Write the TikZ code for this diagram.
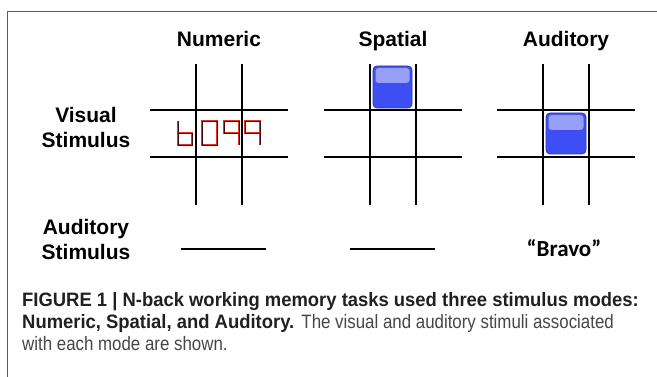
\documentclass[tikz,border=0pt]{standalone}
\usepackage{fontspec}
\setmainfont{Liberation Sans}
\newfontfamily\capfont[FakeStretch=0.95]{Liberation Sans}
\newfontfamily\capreg[FakeStretch=0.87]{Liberation Sans}
\newfontfamily\bravofont{Carlito}
\definecolor{frameg}{RGB}{90,90,90}
\definecolor{capblack}{RGB}{35,31,32}
\definecolor{capgray}{RGB}{70,70,70}
\definecolor{sqbase}{RGB}{62,78,245}
\definecolor{sqtop}{RGB}{150,160,246}
\definecolor{sqedge}{RGB}{45,55,185}
\definecolor{digred}{RGB}{225,50,35}
\definecolor{digcore}{RGB}{70,10,10}
\begin{document}
\begin{tikzpicture}[x=1pt,y=-1pt,
  lbl/.style={font=\fontsize{21}{25}\selectfont\bfseries, inner sep=0pt, anchor=base},
  capline/.style={font=\fontsize{19.4}{22}\selectfont, inner sep=0pt, anchor=base west},
  gridln/.style={line width=1.6pt, black},
  blankln/.style={line width=2.4pt, black},
  digit/.style={draw=digcore, line width=0.9pt, line join=miter,
    preaction={draw=digred, line width=2.6pt, line join=miter}},
  sqbody/.style={fill=sqbase, draw=sqedge, line width=0.8pt, rounded corners=4pt},
  sqhigh/.style={fill=sqtop, rounded corners=3pt}]
\useasboundingbox (0,0) rectangle (657,377);
% frame
\draw[frameg, line width=0.8pt] (7,377) -- (7,11) -- (657,11);
% headers
\node[lbl] (hnum) at (219,47) {Numeric};
\node[lbl] (hspa) at (393,47) {Spatial};
\node[lbl] (haud) at (566,47) {Auditory};
% row labels
\node[lbl] (vis1) at (86,123) {Visual};
\node[lbl] (vis2) at (86,148) {Stimulus};
\node[lbl] (aud1) at (86,235) {Auditory};
\node[lbl] (aud2) at (86,260) {Stimulus};
% grids
\foreach \cx in {219,393,566}{
  \draw[gridln] (\cx-23,64) -- (\cx-23,205);
  \draw[gridln] (\cx+23,64) -- (\cx+23,205);
  \draw[gridln] (\cx-69,110) -- (\cx+69,110);
  \draw[gridln] (\cx-69,157) -- (\cx+69,157);
}
% numeric digits 6099
\draw[digit] (178,121) -- (178,145) -- (192,145) -- (192,133) -- (178,133);
\draw[digit] (202,121) rectangle (217,145);
\draw[digit] (239,145) -- (239,121) -- (224,121) -- (224,133) -- (239,133);
\draw[digit] (260,145) -- (260,121) -- (245,121) -- (245,133) -- (260,133);
% spatial square
\draw[sqbody] (373,66) rectangle (412,108);
\fill[sqhigh] (375.5,68) rectangle (409.5,83);
% auditory square
\draw[sqbody] (546,113) rectangle (586,154);
\fill[sqhigh] (548.5,115) rectangle (583.5,130);
% auditory stimulus row
\draw[blankln] (181,249) -- (266,249);
\draw[blankln] (350,249) -- (435,249);
\node[font=\bravofont\fontsize{23}{26}\selectfont\bfseries, inner sep=0pt, anchor=base] (bravo) at (564,257) {“Bravo”};
% caption
\node[capline, text=capblack] (cap1) at (22,306) {\capfont\bfseries FIGURE 1 | N-back working memory tasks used three stimulus modes:};
\node[capline, text=capgray] (cap2) at (22,328) {{\capfont\color{capblack}\bfseries Numeric, Spatial, and Auditory.} \capreg The visual and auditory stimuli associated};
\node[capline, text=capgray] (cap3) at (22,350) {\capreg with each mode are shown.};
\end{tikzpicture}
\end{document}
